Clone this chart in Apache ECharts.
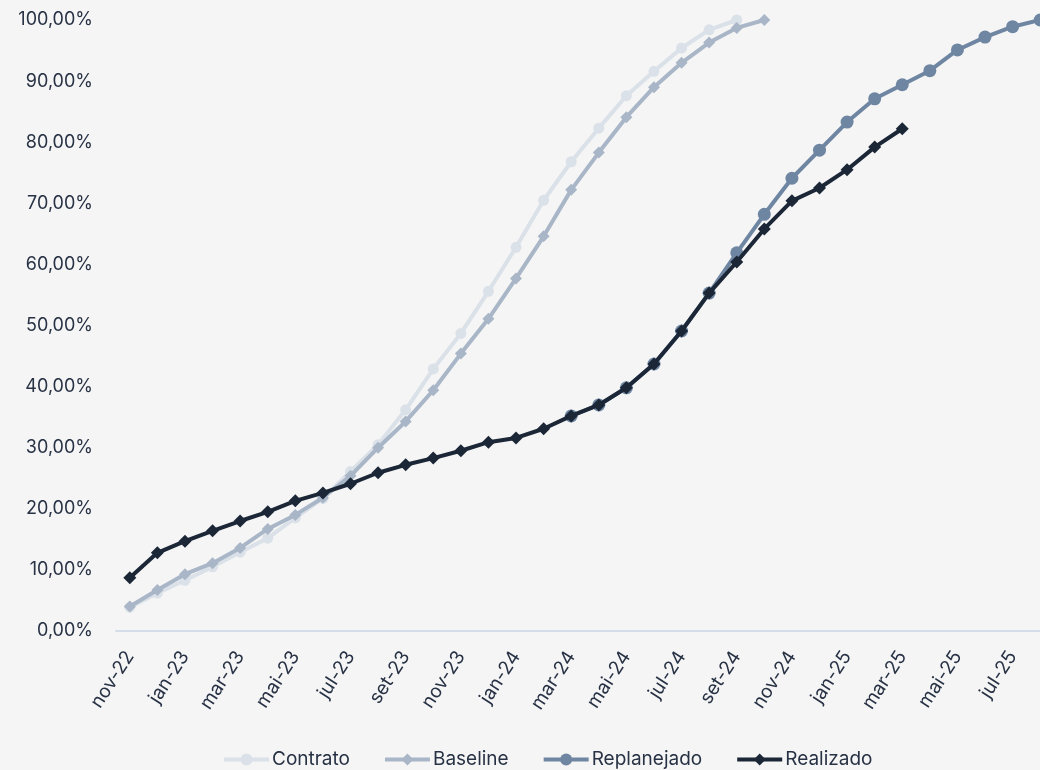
<!DOCTYPE html>
<html>
<head>
<meta charset="utf-8">
<script src="https://cdn.jsdelivr.net/npm/echarts@6/dist/echarts.min.js"></script>
<style>
  html, body { margin: 0; padding: 0; background: #f5f5f5; }
  #chart { width: 1040px; height: 770px; }
</style>
</head>
<body>
<div id="chart"></div>
<script>
// Monthly cumulative progress curves (%), nov-22 .. ago-25
const months = [
  'nov-22','dez-22','jan-23','fev-23','mar-23','abr-23','mai-23','jun-23','jul-23','ago-23',
  'set-23','out-23','nov-23','dez-23','jan-24','fev-24','mar-24','abr-24','mai-24','jun-24',
  'jul-24','ago-24','set-24','out-24','nov-24','dez-24','jan-25','fev-25','mar-25','abr-25',
  'mai-25','jun-25','jul-25','ago-25'
];

const contrato = [
  3.9, 6.2, 8.3, 10.5, 12.9, 15.2, 18.5, 21.7, 26.1, 30.5,
  36.2, 42.9, 48.7, 55.6, 62.8, 70.5, 76.8, 82.3, 87.6, 91.6,
  95.4, 98.4, 100.0
];

const baseline = [
  4.0, 6.7, 9.3, 11.1, 13.6, 16.7, 19.0, 21.8, 25.4, 30.0,
  34.3, 39.4, 45.4, 51.1, 57.7, 64.6, 72.2, 78.3, 84.1, 89.0,
  93.0, 96.3, 98.7, 100.0
];

const replanejado = [
  null, null, null, null, null, null, null, null, null, null,
  null, null, null, null, null, null, 35.2, 37.0, 39.8, 43.7,
  49.1, 55.3, 61.9, 68.2, 74.1, 78.7, 83.3, 87.1, 89.4, 91.7,
  95.1, 97.2, 98.9, 100.0
];

const realizado = [
  8.7, 12.8, 14.7, 16.4, 18.0, 19.5, 21.3, 22.6, 24.1, 25.9,
  27.2, 28.3, 29.5, 30.9, 31.6, 33.1, 35.2, 37.0, 39.8, 43.7,
  49.1, 55.3, 60.4, 65.8, 70.4, 72.5, 75.5, 79.2, 82.2
];

const FONT = 'Inter, "Open Sans", "Noto Sans", sans-serif';
const TEXT = '#283245';

const chart = echarts.init(document.getElementById('chart'), null, { renderer: 'canvas' });

function lineSeries(name, data, color, symbol, size, z) {
  return {
    name: name,
    type: 'line',
    data: data,
    z: z,
    symbol: symbol,
    symbolSize: size,
    connectNulls: false,
    lineStyle: { color: color, width: 4 },
    itemStyle: { color: color },
    emphasis: { disabled: true },
    animation: false
  };
}

chart.setOption({
  backgroundColor: '#f5f5f5',
  textStyle: { fontFamily: FONT },
  grid: {
    left: 116, top: 20, width: 938, height: 611,
    containLabel: false,
    outerBoundsMode: 'none'
  },
  xAxis: {
    type: 'category',
    data: months,
    boundaryGap: true,
    axisLine: { show: true, lineStyle: { color: '#d5dee8', width: 2 } },
    axisTick: { show: false },
    axisLabel: {
      interval: 1,
      rotate: 57,
      color: TEXT,
      fontSize: 19,
      fontFamily: FONT,
      margin: 22
    },
    splitLine: { show: false }
  },
  yAxis: {
    type: 'value',
    min: 0,
    max: 100,
    interval: 10,
    axisLine: { show: false },
    axisTick: { show: false },
    splitLine: { show: false },
    axisLabel: {
      color: TEXT,
      fontSize: 18,
      fontFamily: FONT,
      margin: 23,
      formatter: v => v + ',00%'
    }
  },
  legend: {
    top: 745,
    left: 217,
    itemWidth: 45,
    itemHeight: 15,
    itemGap: 33,
    lineStyle: { width: 4 },
    textStyle: { color: TEXT, fontSize: 19, fontFamily: FONT, padding: [0, 0, 0, -2] },
    data: ['Contrato', 'Baseline', 'Replanejado', 'Realizado']
  },
  series: [
    lineSeries('Contrato', contrato, '#dbe1e8', 'circle', 11, 1),
    lineSeries('Baseline', baseline, '#a9b6c7', 'diamond', 12, 2),
    lineSeries('Replanejado', replanejado, '#6f86a2', 'circle', 13, 3),
    lineSeries('Realizado', realizado, '#1b2637', 'diamond', 13, 4)
  ]
});
</script>
</body>
</html>
